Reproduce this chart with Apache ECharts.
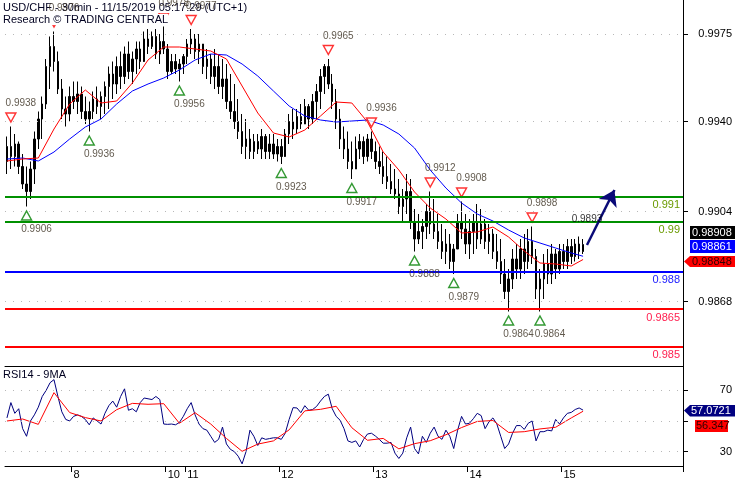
<!DOCTYPE html>
<html><head><meta charset="utf-8">
<script src="https://cdn.jsdelivr.net/npm/echarts@6/dist/echarts.min.js"></script>
<style>html,body{margin:0;padding:0;background:#fff}#c{width:735px;height:480px}</style>
</head><body><div id="c"></div>
<script>
// ---------- data (prices in pips: 9930 = 0.9930) ----------
const N_SLOTS = 173;               // hourly slots on the axis (148 used)
const dayStarts = [17, 41, 46, 70, 94, 118, 142];
const dayLabels = ['8', '10', '11', '12', '13', '14', '15'];

const opens = [
 9924,9930,9926,9931,9922,9915,9912,9921,9933,9941,
 9947,9962,9970,9964,9953,9945,9943,9950,9948,9951,
 9944,9941,9944,9949,9946,9950,9954,9959,9955,9962,
 9958,9967,9960,9965,9969,9964,9973,9970,9974,9967,
 9972,9969,9960,9964,9961,9963,9966,9971,9973,9968,
 9971,9962,9965,9958,9962,9954,9957,9948,9944,9940,
 9936,9930,9933,9928,9932,9929,9934,9928,9931,9927,
 9930,9926,9935,9940,9937,9942,9939,9946,9941,9948,
 9952,9958,9962,9955,9948,9941,9933,9929,9924,9921,
 9929,9932,9926,9933,9928,9924,9922,9918,9916,9913,
 9911,9906,9909,9912,9900,9893,9896,9898,9904,9899,
 9896,9892,9888,9891,9884,9889,9900,9897,9891,9896,
 9900,9893,9899,9892,9895,9888,9884,9879,9872,9877,
 9885,9881,9889,9884,9892,9886,9873,9877,9883,9879,
 9887,9881,9888,9884,9890,9886,9891,9888];
const closes = [
 9930,9926,9931,9922,9915,9912,9921,9933,9941,9947,
 9962,9970,9964,9953,9945,9943,9950,9948,9951,9944,
 9941,9944,9949,9946,9950,9954,9959,9955,9962,9958,
 9967,9960,9965,9969,9964,9973,9970,9974,9967,9972,
 9969,9960,9964,9961,9963,9966,9971,9973,9968,9971,
 9962,9965,9958,9962,9954,9957,9948,9944,9940,9936,
 9930,9933,9928,9932,9929,9934,9928,9931,9927,9930,
 9926,9935,9940,9937,9942,9939,9946,9941,9948,9952,
 9958,9962,9955,9948,9941,9933,9929,9924,9921,9929,
 9932,9926,9933,9928,9924,9922,9918,9916,9913,9911,
 9906,9909,9912,9900,9893,9896,9898,9904,9899,9896,
 9892,9888,9891,9884,9889,9900,9897,9891,9896,9900,
 9893,9899,9892,9895,9888,9884,9879,9872,9877,9885,
 9881,9889,9884,9892,9886,9873,9877,9883,9879,9887,
 9881,9888,9884,9890,9886,9891,9888,9890.8];
const lows = [
 9919,9921,9922,9919,9913,9906,9909,9915,9929,9933,
 9945,9953,9960,9951,9941,9938,9940,9945,9943,9941,
 9939,9936,9941,9943,9941,9943,9945,9949,9951,9953,
 9955,9957,9955,9959,9961,9965,9967,9969,9965,9963,
 9967,9957,9959,9959,9956,9959,9963,9967,9965,9963,
 9959,9957,9955,9953,9951,9949,9945,9941,9937,9933,
 9927,9925,9925,9925,9927,9925,9925,9925,9925,9924,
 9923,9927,9931,9933,9935,9937,9939,9937,9939,9941,
 9945,9951,9953,9945,9937,9929,9925,9921,9917,9921,
 9925,9923,9924,9925,9921,9919,9915,9913,9911,9909,
 9903,9900,9903,9897,9888,9891,9889,9893,9895,9893,
 9889,9885,9883,9881,9879,9889,9893,9887,9885,9887,
 9889,9891,9889,9887,9885,9881,9875,9869,9864,9873,
 9877,9877,9879,9881,9883,9869,9864,9869,9875,9875,
 9877,9879,9881,9881,9883,9884,9885,9887];
const highs = [
 9934,9938,9935,9932,9927,9922,9924,9936,9944,9950,
 9965,9974,9976,9968,9957,9950,9954,9956,9956,9954,
 9950,9948,9952,9954,9952,9956,9962,9964,9966,9968,
 9970,9972,9968,9972,9972,9976,9977,9976,9977,9975,
 9978,9971,9967,9967,9965,9967,9973,9977,9975,9975,
 9971,9969,9967,9969,9967,9965,9963,9959,9955,9949,
 9943,9941,9937,9935,9935,9937,9935,9935,9935,9933,
 9933,9937,9943,9945,9945,9947,9949,9947,9951,9955,
 9961,9963,9965,9959,9953,9945,9938,9936,9932,9934,
 9935,9934,9935,9936,9932,9930,9928,9926,9923,9921,
 9917,9913,9919,9917,9905,9903,9901,9907,9912,9909,
 9903,9899,9897,9895,9891,9903,9908,9903,9901,9903,
 9907,9905,9901,9899,9897,9895,9893,9885,9881,9889,
 9891,9893,9895,9897,9898,9889,9881,9887,9889,9891,
 9889,9891,9891,9893,9893,9893,9894,9893];

// moving averages read every 4th slot
const maIdx = [0,4,8,12,16,20,24,28,32,36,40,44,48,52,56,60,64,68,72,76,80,84,88,92,96,100,104,108,112,116,120,124,128,132,136,140,144,147];
const maFast = [9924.2,9925.0,9925.4,9937.0,9947.0,9952.6,9947.4,9948.2,9955.4,9964.6,9969.8,9969.8,9969.0,9968.2,9965.0,9954.2,9943.4,9935.4,9933.8,9936.6,9942.2,9947.8,9947.4,9939.8,9927.8,9920.6,9911.8,9905.4,9901.0,9895.4,9895.8,9897.8,9893.8,9888.2,9883.4,9883.0,9882.2,9884.8];
const maSlow = [9925.0,9925.4,9924.2,9927.8,9933.0,9937.8,9941.0,9947.0,9952.2,9955.0,9957.4,9960.6,9964.6,9967.0,9966.6,9963.0,9958.2,9952.2,9946.2,9942.2,9940.6,9939.8,9940.2,9940.6,9938.6,9935.0,9929.4,9920.6,9913.4,9907.4,9903.0,9900.2,9896.6,9893.4,9891.4,9889.4,9887.4,9886.1];

const rsi = [
 52,62,55,58,45,40,50,54,59,66,
 70,75,77,66,56,51,50,53,54,53,
 51,47.5,52,50,48,55,60,63,59,66,
 71,57,58,56,62,65,64.5,64,66,64,
 48,47.8,48,47.5,49,53,58,62,54,48,
 45,44,40,36,38,46,35,31.5,30,27,
 22,30,44,40,34,39,38,38.5,39,39,
 38,42,51,58.7,58.5,55.4,60,57,57.5,59.5,
 63,66,67.5,58,53,50.5,45,37,36,37,
 33,38,41.5,42,40.2,38,35.5,35.5,36,29,
 25.5,29,39,46,32,28.5,40,36,42,46,
 40,38,44,40,32,44,53,48,48.5,51.5,
 55,53.5,45,49.5,52,48,40,32,35,42,
 47,47,44.5,48.5,50,37,43,43,44,43.5,
 51,48,52,55,55.6,57.5,58.5,57.07];
const rsiMa = [50,51.3,47.8,68.5,55.5,52.2,50,57.4,61.5,60.9,61.3,48.5,55.4,48,38.6,30.2,34.9,37,44.2,56.6,57.6,59.6,45.6,37.4,38.6,31.8,35.2,37.1,41,45.7,49.7,50.3,42.5,43,44.8,45.9,52,56.347];

const swingHighIdx = [1,12,40,47,82,93,108,116,134];
const swingHighVal = [0.9938,0.9976,0.9978,0.9977,0.9965,0.9936,0.9912,0.9908,0.9898];
const swingLowIdx = [5,21,44,70,88,104,114,128,136];
const swingLowVal = [0.9906,0.9936,0.9956,0.9923,0.9917,0.9888,0.9879,0.9864,0.9864];

const levelValues = [0.991, 0.990, 0.988, 0.9865, 0.985];
const levelLabels = ['0.991', '0.99', '0.988', '0.9865', '0.985'];
const priceTicks = [0.9975, 0.9940, 0.9904, 0.9868];
const rsiTicks = [70, 50, 30];
const rsiLabelTicks = [70, 30];
const arrowFrom = [148, 0.98906];
const arrowTo = [155, 0.99126];
const pivotNote = {idx: 148, val: 0.9901, text: '0.9893'};
const lastClose = '0.98908', lastSlow = '0.98861', lastFast = '0.98848';
const lastRsi = '57.0721', lastRsiMa = '56.347';
const titleLine1 = 'USD/CHF - 30min - 11/15/2019 05:17:29 (UTC+1)';
const titleLine2 = 'Research \u00A9 TRADING CENTRAL';
const rsiTitle = 'RSI14 - 9MA';

// ---------- build ----------
const FONT = '"Liberation Sans", Arial, sans-serif';
const P = v => v / 10000;
const cats = Array.from({length: N_SLOTS}, (_, i) => 's' + i);
const candleData = opens.map((o, i) => [P(o), P(closes[i]), P(lows[i]), P(highs[i])]);
const pairs = (idx, vals, f) => idx.map((x, i) => [x, f ? f(vals[i]) : vals[i]]);
const levelLine = ['#009000', '#009000', '#0000ff', '#ff0000', '#ff0000'];
const levelText = ['#6a9a00', '#6a9a00', '#2020ff', '#ff2050', '#ff2050'];
const isDay = i => dayStarts.indexOf(i) >= 0;

const chart = echarts.init(document.getElementById('c'), null, {renderer: 'canvas'});
chart.setOption({
  animation: false,
  backgroundColor: '#fff',
  textStyle: {fontFamily: FONT},
  grid: [
    {left: 5, right: 52, top: 0, height: 366},
    {left: 5, right: 52, top: 366, height: 101}
  ],
  xAxis: [
    {type: 'category', gridIndex: 0, data: cats, boundaryGap: true,
     axisLine: {show: true, lineStyle: {color: '#000', width: 1}},
     axisTick: {show: false}, axisLabel: {show: false}, splitLine: {show: false}},
    {type: 'category', gridIndex: 1, data: cats, boundaryGap: true,
     axisLine: {show: true, lineStyle: {color: '#000', width: 1}},
     axisTick: {show: true, interval: (i) => isDay(i), length: 6, lineStyle: {color: '#000'}},
     axisLabel: {show: true, interval: (i) => isDay(i), align: 'left', margin: 3,
       formatter: (v, i) => dayLabels[dayStarts.indexOf(i)] || '', color: '#000', fontSize: 11, fontFamily: FONT},
     splitLine: {show: false}}
  ],
  yAxis: [
    {type: 'value', gridIndex: 0, position: 'right', min: 0.98422, max: 0.99886,
     axisLine: {show: true, lineStyle: {color: '#000', width: 1}},
     axisTick: {show: true, length: 5, customValues: priceTicks, lineStyle: {color: '#000'}},
     axisLabel: {show: true, customValues: priceTicks, align: 'right', margin: 49,
       formatter: v => v.toFixed(4), color: '#000', fontSize: 11, fontFamily: FONT},
     splitLine: {show: false}},
    {type: 'value', gridIndex: 1, position: 'right', min: 20.6, max: 85.9,
     axisLine: {show: true, lineStyle: {color: '#000', width: 1}},
     axisTick: {show: true, length: 5, customValues: rsiTicks, lineStyle: {color: '#000'}},
     axisLabel: {show: true, customValues: rsiLabelTicks, align: 'right', margin: 49,
       formatter: v => String(v), color: '#000', fontSize: 11, fontFamily: FONT},
     splitLine: {show: false}}
  ],
  series: [
    {type: 'line', xAxisIndex: 0, yAxisIndex: 0, data: [], silent: true, z: 1,
     markLine: {silent: true, symbol: 'none', animation: false, precision: 6, label: {show: false},
       lineStyle: {type: [1, 7], color: '#b8b8b8', width: 1},
       data: priceTicks.map(v => ({yAxis: v}))}},
    {type: 'candlestick', xAxisIndex: 0, yAxisIndex: 0, data: candleData, barWidth: 2, z: 2,
     itemStyle: {color: '#000000', color0: '#000000', borderColor: '#000000', borderColor0: '#000000', borderWidth: 1}},
    {type: 'line', xAxisIndex: 0, yAxisIndex: 0, data: pairs(maIdx, maSlow, P), showSymbol: false, z: 3,
     lineStyle: {color: '#0000ff', width: 1}},
    {type: 'line', xAxisIndex: 0, yAxisIndex: 0, data: pairs(maIdx, maFast, P), showSymbol: false, z: 3,
     lineStyle: {color: '#ff0000', width: 1}},
    {type: 'line', xAxisIndex: 0, yAxisIndex: 0, data: [], silent: true, z: 4,
     markLine: {silent: true, symbol: 'none', animation: false, precision: 6,
       data: levelValues.map((v, i) => ({yAxis: v, lineStyle: {color: levelLine[i], width: 2, type: 'solid'},
         label: {show: true, position: 'insideEndBottom', distance: 3, formatter: levelLabels[i],
           color: levelText[i], fontSize: 11, fontFamily: FONT}}))}},
    {type: 'line', xAxisIndex: 0, yAxisIndex: 0, data: [], silent: true, z: 4,
     markLine: {silent: true, symbol: ['none', 'arrow'], symbolSize: 15, animation: false, precision: 6, label: {show: false},
       lineStyle: {color: '#0a0a78', width: 2.5, type: 'solid'},
       data: [[{coord: arrowFrom}, {coord: arrowTo}]]}},
    {type: 'scatter', xAxisIndex: 0, yAxisIndex: 0, z: 4, silent: true,
     symbol: 'triangle', symbolSize: [10, 9], symbolRotate: 180, symbolOffset: [0, -9],
     itemStyle: {color: '#ffffff', borderColor: '#ff0000', borderWidth: 1.4},
     data: pairs(swingHighIdx, swingHighVal)},
    {type: 'scatter', xAxisIndex: 0, yAxisIndex: 0, z: 4, silent: true,
     symbol: 'triangle', symbolSize: [10, 9], symbolOffset: [0, 9],
     itemStyle: {color: '#ffffff', borderColor: '#008000', borderWidth: 1.4},
     data: pairs(swingLowIdx, swingLowVal)},
    {type: 'scatter', xAxisIndex: 0, yAxisIndex: 0, z: 10, silent: true, symbolSize: 0,
     label: {show: true, position: 'inside', color: '#3a3020', fontSize: 10, fontFamily: FONT,
       formatter: p => p.value[1].toFixed(4)},
     data: [
       ...swingHighIdx.map((x, i) => ({value: [x, swingHighVal[i]], label: {offset: [10, -23]}})),
       ...swingLowIdx.map((x, i) => ({value: [x, swingLowVal[i]], label: {offset: [10, 23]}})),
       {value: [pivotNote.idx, pivotNote.val], label: {formatter: pivotNote.text, color: '#000'}}
     ]},
    // RSI panel
    {type: 'line', xAxisIndex: 1, yAxisIndex: 1, data: [], silent: true, z: 1,
     markLine: {silent: true, symbol: 'none', animation: false, precision: 4, label: {show: false},
       lineStyle: {type: [1, 7], color: '#b8b8b8', width: 1},
       data: rsiTicks.map(v => ({yAxis: v}))}},
    {type: 'line', xAxisIndex: 1, yAxisIndex: 1, data: rsi.map((v, i) => [i, v]), showSymbol: false, z: 3,
     lineStyle: {color: '#000080', width: 1}},
    {type: 'line', xAxisIndex: 1, yAxisIndex: 1, data: pairs(maIdx, rsiMa), showSymbol: false, z: 3,
     lineStyle: {color: '#ff0000', width: 1}}
  ],
  graphic: [
    {type: 'text', x: 3, y: 2, z: 6, style: {text: titleLine1, fill: '#000020', font: '11px ' + FONT, backgroundColor: '#fff'}},
    {type: 'text', x: 3, y: 14, z: 6, style: {text: titleLine2, fill: '#000020', font: '11px ' + FONT, backgroundColor: '#fff'}},
    {type: 'text', x: 3, y: 369, z: 6, style: {text: rsiTitle, fill: '#000020', font: '11px ' + FONT}},
    {type: 'rect', z: 20, shape: {x: 690, y: 226, width: 45, height: 13}, style: {fill: '#000'}},
    {type: 'text', z: 21, x: 692, y: 227, style: {text: lastClose, fill: '#fff', font: '11px ' + FONT}},
    {type: 'rect', z: 20, shape: {x: 690, y: 240, width: 45, height: 13}, style: {fill: '#0000ff'}},
    {type: 'text', z: 21, x: 692, y: 241, style: {text: lastSlow, fill: '#fff', font: '11px ' + FONT}},
    {type: 'polygon', z: 20, shape: {points: [[684, 261.5], [690, 256], [735, 256], [735, 267], [690, 267]]}, style: {fill: '#ff0000'}},
    {type: 'text', z: 21, x: 692, y: 256, style: {text: lastFast, fill: '#300000', font: '11px ' + FONT}},
    {type: 'polygon', z: 20, shape: {points: [[684, 410.5], [690, 405], [735, 405], [735, 416.5], [690, 416.5]]}, style: {fill: '#000080'}},
    {type: 'text', z: 21, x: 691, y: 405, style: {text: lastRsi, fill: '#fff', font: '11px ' + FONT}},
    {type: 'rect', z: 20, shape: {x: 695, y: 420, width: 33, height: 12}, style: {fill: '#ff0000'}},
    {type: 'text', z: 21, x: 696, y: 420, style: {text: lastRsiMa, fill: '#300000', font: '11px ' + FONT}}
  ]
});
</script></body></html>
